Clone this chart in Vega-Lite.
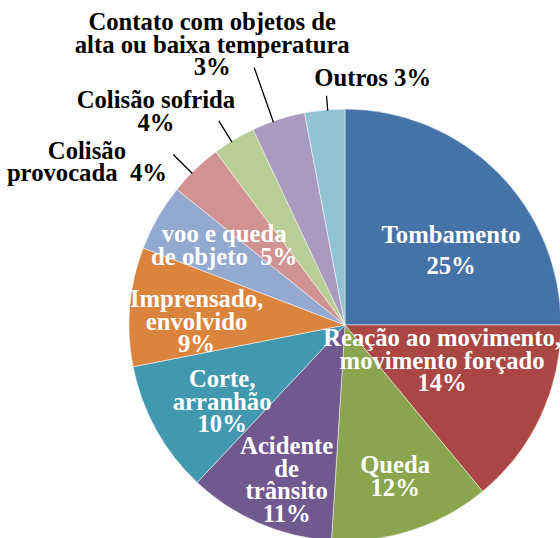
{
  "$schema": "https://vega.github.io/schema/vega-lite/v6.json",
  "width": 560,
  "height": 538,
  "padding": 0,
  "autosize": {"type": "none"},
  "background": "white",
  "config": {
    "view": {"stroke": null},
    "text": {"font": "Liberation Serif", "fontWeight": "bold", "fontSize": 24.7, "lineBreak": "\n", "lineHeight": 22.5, "baseline": "middle", "align": "center"}
  },
  "datasets": {
    "pie": [
      {"ord": 1, "category": "Tombamento", "value": 25, "label": "Tombamento\n25%"},
      {"ord": 2, "category": "Reação ao movimento, movimento forçado", "value": 14, "label": "Reação ao movimento,\nmovimento forçado\n14%"},
      {"ord": 3, "category": "Queda", "value": 12, "label": "Queda\n12%"},
      {"ord": 4, "category": "Acidente de trânsito", "value": 11, "label": "Acidente\nde\ntrânsito\n11%"},
      {"ord": 5, "category": "Corte, arranhão", "value": 9.9, "label": "Corte,\narranhão\n10%"},
      {"ord": 6, "category": "Imprensado, envolvido", "value": 8.9, "label": "Imprensado,\nenvolvido\n9%"},
      {"ord": 7, "category": "voo e queda de objeto", "value": 5, "label": "voo e queda\nde objeto\u00a0 5%"},
      {"ord": 8, "category": "Colisão provocada", "value": 4, "label": "Colisão\nprovocada\u00a0 4%"},
      {"ord": 9, "category": "Colisão sofrida", "value": 3.2, "label": "Colisão sofrida\n4%"},
      {"ord": 10, "category": "Contato com objetos de alta ou baixa temperatura", "value": 4, "label": "Contato com objetos de\nalta ou baixa temperatura\n3%"},
      {"ord": 11, "category": "Outros", "value": 3, "label": "Outros 3%"}
    ],
    "leaders": [
      {"slice": "Colisão provocada", "pos": 87.44},
      {"slice": "Colisão sofrida", "pos": 91.19},
      {"slice": "Contato com objetos de alta ou baixa temperatura", "pos": 94.6},
      {"slice": "Outros", "pos": 98.72}
    ]
  },
  "resolve": {"scale": {"theta": "independent"}},
  "layer": [
    {
      "data": {"name": "pie"},
      "encoding": {
        "theta": {"field": "value", "type": "quantitative", "stack": true},
        "order": {"field": "ord", "type": "quantitative"}
      },
      "layer": [
        {
          "mark": {"type": "arc", "x": 345, "y": 325, "outerRadius": 216, "stroke": "white", "strokeWidth": 0.5},
          "encoding": {
            "color": {
              "field": "category", "type": "nominal", "legend": null,
              "scale": {
                "domain": ["Tombamento", "Reação ao movimento, movimento forçado", "Queda", "Acidente de trânsito", "Corte, arranhão", "Imprensado, envolvido", "voo e queda de objeto", "Colisão provocada", "Colisão sofrida", "Contato com objetos de alta ou baixa temperatura", "Outros"],
                "range": ["#4572A7", "#AA4643", "#89A54E", "#71588F", "#4198AF", "#DB843D", "#93A9CF", "#D19392", "#B9CD96", "#A99BBD", "#92C3D5"]
              }
            }
          }
        },
        {
          "mark": {"type": "text", "x": 345, "y": 325, "radius": 126, "dx": 17, "dy": 0, "color": "white", "lineHeight": 31},
          "encoding": {"text": {"condition": {"test": "datum.ord === 1", "field": "label"}, "value": ""}}
        },
        {
          "mark": {"type": "text", "x": 345, "y": 325, "radius": 104, "dx": 3, "dy": -30, "color": "white"},
          "encoding": {"text": {"condition": {"test": "datum.ord === 2", "field": "label"}, "value": ""}}
        },
        {
          "mark": {"type": "text", "x": 345, "y": 325, "radius": 159, "dx": 1, "dy": -10, "color": "white"},
          "encoding": {"text": {"condition": {"test": "datum.ord === 3", "field": "label"}, "value": ""}}
        },
        {
          "mark": {"type": "text", "x": 345, "y": 325, "radius": 167, "dx": 8, "dy": -31, "color": "white"},
          "encoding": {"text": {"condition": {"test": "datum.ord === 4", "field": "label"}, "value": ""}}
        },
        {
          "mark": {"type": "text", "x": 345, "y": 325, "radius": 145, "dx": 4, "dy": -15, "color": "white"},
          "encoding": {"text": {"condition": {"test": "datum.ord === 5", "field": "label"}, "value": ""}}
        },
        {
          "mark": {"type": "text", "x": 345, "y": 325, "radius": 149, "dx": 0, "dy": -12, "color": "white"},
          "encoding": {"text": {"condition": {"test": "datum.ord === 6", "field": "label"}, "value": ""}}
        },
        {
          "mark": {"type": "text", "x": 345, "y": 325, "radius": 144, "dx": 4, "dy": -18, "color": "white"},
          "encoding": {"text": {"condition": {"test": "datum.ord === 7", "field": "label"}, "value": ""}}
        },
        {
          "mark": {"type": "text", "x": 345, "y": 325, "radius": 300, "dx": -50, "dy": 43, "color": "black"},
          "encoding": {"text": {"condition": {"test": "datum.ord === 8", "field": "label"}, "value": ""}}
        },
        {
          "mark": {"type": "text", "x": 345, "y": 325, "radius": 284, "dx": -43, "dy": 20, "color": "black"},
          "encoding": {"text": {"condition": {"test": "datum.ord === 9", "field": "label"}, "value": ""}}
        },
        {
          "mark": {"type": "text", "x": 345, "y": 325, "radius": 310, "dx": -37, "dy": -7, "color": "black"},
          "encoding": {"text": {"condition": {"test": "datum.ord === 10", "field": "label"}, "value": ""}}
        },
        {
          "mark": {"type": "text", "x": 345, "y": 325, "radius": 248, "dx": 51, "dy": 1, "color": "black"},
          "encoding": {"text": {"condition": {"test": "datum.ord === 11", "field": "label"}, "value": ""}}
        }
      ]
    },
    {
      "data": {"name": "leaders"},
      "transform": [{"filter": "datum.slice === 'Outros'"}],
      "mark": {"type": "arc", "x": 345, "y": 325, "outerRadius": 230, "innerRadius": 215, "filled": false, "stroke": "black", "strokeWidth": 1.3},
      "encoding": {
        "theta": {"field": "pos", "type": "quantitative", "scale": {"domain": [0, 100]}},
        "theta2": {"field": "pos"}
      }
    },
    {
      "data": {"name": "leaders"},
      "transform": [{"filter": "datum.slice === 'Contato com objetos de alta ou baixa temperatura'"}],
      "mark": {"type": "arc", "x": 345, "y": 325, "outerRadius": 273, "innerRadius": 215, "filled": false, "stroke": "black", "strokeWidth": 1.3},
      "encoding": {
        "theta": {"field": "pos", "type": "quantitative", "scale": {"domain": [0, 100]}},
        "theta2": {"field": "pos"}
      }
    },
    {
      "data": {"name": "leaders"},
      "transform": [{"filter": "datum.slice === 'Colisão sofrida'"}],
      "mark": {"type": "arc", "x": 345, "y": 325, "outerRadius": 240, "innerRadius": 215, "filled": false, "stroke": "black", "strokeWidth": 1.3},
      "encoding": {
        "theta": {"field": "pos", "type": "quantitative", "scale": {"domain": [0, 100]}},
        "theta2": {"field": "pos"}
      }
    },
    {
      "data": {"name": "leaders"},
      "transform": [{"filter": "datum.slice === 'Colisão provocada'"}],
      "mark": {"type": "arc", "x": 345, "y": 325, "outerRadius": 242, "innerRadius": 215, "filled": false, "stroke": "black", "strokeWidth": 1.3},
      "encoding": {
        "theta": {"field": "pos", "type": "quantitative", "scale": {"domain": [0, 100]}},
        "theta2": {"field": "pos"}
      }
    }
  ]
}
